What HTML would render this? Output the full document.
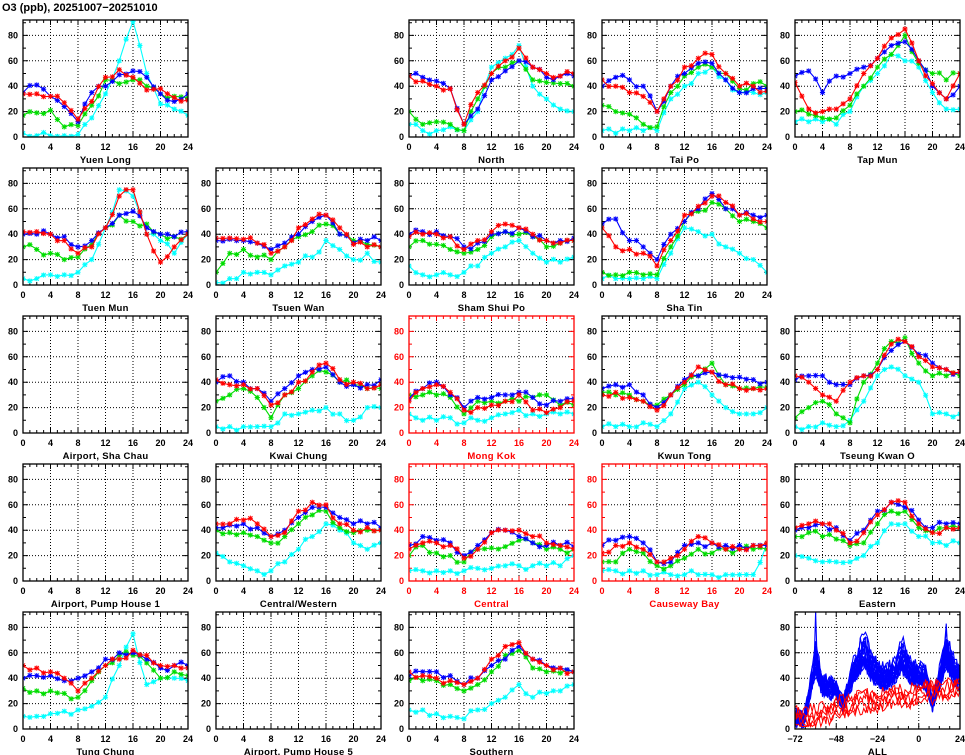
<!DOCTYPE html>
<html><head><meta charset="utf-8"><style>
body{margin:0;background:#fff;}
svg{display:block;font-family:"Liberation Sans",sans-serif;}
</style></head><body>
<svg id="s" width="965" height="755" xmlns="http://www.w3.org/2000/svg">
<text x="2" y="11" font-size="11" font-weight="bold" fill="#000">O3 (ppb), 20251007−20251010</text>
</svg>
<script>
const S=document.getElementById('s');const NS='http://www.w3.org/2000/svg';
function el(t,a,txt){const e=document.createElementNS(NS,t);for(const k in a)e.setAttribute(k,a[k]);if(txt!==undefined)e.textContent=txt;S.appendChild(e);return e;}
const K=1.27,W=165,H=117;
const P=[
["Yuen Long",0,0,0,[[35,41,32,24,12,35,40,49,52,47,34,28,34],[34,34,32,27,14,28,47,53,47,37,38,31,29],[17,19,21,8,9,25,45,42,45,40,34,32,31],[3,1,1,1,2,15,34,60,91,50,26,22,17]]],
["North",2,0,0,[[48,47,44,38,10,22,45,52,60,55,47,48,48],[48,44,40,38,10,35,50,60,70,55,50,48,50],[20,10,12,10,5,30,50,55,60,45,43,42,40],[10,5,5,8,5,20,55,62,72,40,30,22,20]]],
["Tai Po",3,0,0,[[40,47,45,40,20,40,50,58,58,45,35,38,38],[45,40,35,32,20,40,55,62,65,50,40,40,36],[25,20,18,10,8,35,48,55,55,50,38,42,40],[5,3,5,5,5,30,40,50,55,45,35,35,35]]],
["Tap Mun",4,0,0,[[48,52,35,48,50,55,62,72,75,60,40,30,40],[43,22,20,22,30,50,62,78,85,60,42,30,50],[20,18,15,15,25,40,55,65,80,58,50,45,50],[12,12,12,10,20,40,50,65,60,55,35,22,22]]],
["Tuen Mun",0,1,0,[[40,40,40,38,30,35,45,55,58,45,40,38,42],[42,42,40,35,25,30,45,70,75,40,18,30,40],[30,28,25,20,22,32,45,55,50,48,40,38,40],[5,5,8,8,10,20,45,75,70,40,35,25,40]]],
["Tsuen Wan",1,1,0,[[35,36,35,33,28,33,40,50,55,40,33,35,35],[37,37,36,33,25,30,45,52,55,45,32,30,30],[10,25,28,22,20,30,38,42,48,40,35,32,30],[2,5,10,10,8,15,18,22,35,28,20,25,18]]],
["Sham Shui Po",2,1,0,[[40,42,42,38,30,33,40,42,45,38,35,35,37],[38,40,40,38,28,35,42,48,45,40,35,33,35],[30,35,32,28,25,28,38,42,40,38,30,33,35],[15,8,8,8,10,15,25,30,35,25,18,18,22]]],
["Sha Tin",3,1,0,[[48,52,35,30,20,40,50,60,72,60,55,55,55],[45,30,28,25,15,35,55,62,70,65,55,52,50],[10,8,10,8,8,30,50,58,65,60,50,50,45],[5,5,5,5,5,25,45,42,40,30,25,20,10]]],
["Airport, Sha Chau",0,2,0,null],
["Kwai Chung",1,2,0,[[40,45,40,35,25,35,45,50,52,40,38,38,42],[42,38,38,35,22,30,40,48,55,42,40,35,38],[25,30,35,28,12,30,35,45,48,40,38,35,35],[5,5,5,5,5,15,15,18,20,15,10,20,20]]],
["Mong Kok",2,2,1,[[27,35,40,30,20,28,28,30,32,28,22,25,27],[25,35,38,32,18,20,22,25,30,18,16,20,25],[30,30,30,28,15,25,25,25,25,28,30,22,22],[15,10,10,12,8,10,12,15,18,15,15,15,15]]],
["Kwun Tong",3,2,0,[[35,38,38,30,20,30,42,45,48,45,44,42,40],[30,32,28,25,18,30,40,52,48,38,35,35,35],[32,30,30,25,22,30,38,45,55,38,35,35,36],[5,5,5,8,5,15,35,40,30,20,15,15,20]]],
["Tseung Kwan O",4,2,0,[[42,45,45,38,38,45,50,65,72,62,55,50,48],[45,40,30,25,40,45,50,70,72,60,52,50,48],[12,20,25,15,8,40,55,72,75,55,45,45,45],[5,5,8,5,10,25,45,52,45,40,15,15,15]]],
["Airport, Pump House 1",0,3,0,null],
["Central/Western",1,3,0,[[42,44,45,42,35,40,50,58,58,50,45,45,42],[45,45,48,45,35,38,55,62,60,45,40,42,40],[40,38,38,35,30,35,45,52,55,42,38,40,40],[22,15,12,8,8,15,25,35,45,40,30,25,30]]],
["Central",2,3,1,[[28,35,32,30,20,28,38,40,35,30,28,28,27],[25,30,30,28,18,25,38,40,40,35,30,28,25],[20,28,22,20,15,25,26,27,32,30,25,25,25],[8,8,8,8,8,10,10,12,12,12,12,12,20]]],
["Causeway Bay",3,3,1,[[28,32,35,30,15,15,28,30,30,28,28,28,28],[22,28,30,25,15,18,25,35,30,25,25,28,30],[15,15,25,22,12,12,18,25,22,25,25,25,25],[8,8,8,8,5,5,5,5,5,5,5,5,30]]],
["Eastern",4,3,0,[[40,42,45,42,32,40,55,62,58,48,42,45,45],[42,45,45,40,30,38,52,62,62,45,38,42,42],[35,38,35,33,28,30,45,55,55,42,38,42,42],[20,18,15,15,15,20,30,45,45,35,30,28,30]]],
["Tung Chung",0,4,0,[[40,42,42,38,40,45,55,60,60,55,48,50,50],[50,48,45,40,30,40,50,55,62,58,50,50,48],[32,30,30,28,25,38,50,58,58,52,40,45,42],[10,10,12,14,15,18,25,50,75,35,40,40,38]]],
["Airport, Pump House 5",1,4,0,null],
["Southern",2,4,0,[[42,45,45,42,35,40,50,55,65,55,50,48,45],[45,42,40,38,35,40,55,65,68,55,50,48,45],[38,38,38,35,30,35,45,58,62,48,45,44,45],[15,15,12,10,8,15,20,25,35,25,28,30,35]]],
["ALL",4,4,0,"all"]
];
const COL=['#0000ff','#ff0000','#00dd00','#00ffff'];
const ORDER=[3,2,0,1];
let seed=7;function rnd(){seed=(seed*16807)%2147483647;return seed/2147483647;}
function star(x,y,c,g){const r=2.6;g.push(`M${x-r} ${y}h${2*r}M${x} ${y-r}v${2*r}M${x-r*.8} ${y-r*.8}l${1.6*r} ${1.6*r}M${x-r*.8} ${y+r*.8}l${1.6*r} ${-1.6*r}`);}
for(const [name,c,r,red,data] of P){
  const x0=23+193*c,y0=137+148*r,yt=y0-H;
  const fc=red?'#ff0000':'#000';
  const isAll=data==='all';
  const xmin=isAll?-72:0,xmax=24,xs=W/(xmax-xmin);
  const X=v=>x0+(v-xmin)*xs,Y=v=>y0-v*K;
  let gp='';
  const step=isAll?24:4;
  for(let v=xmin+step;v<xmax;v+=step)gp+=`M${X(v)} ${yt}V${y0}`;
  for(let v=20;v<=80;v+=20)gp+=`M${x0} ${Y(v)}H${x0+W}`;
  el('path',{d:gp,stroke:'#000','stroke-width':1,'stroke-dasharray':'1,2',fill:'none'});
  let tp='';const mstep=isAll?6:1;
  for(let v=xmin;v<=xmax;v+=mstep){const L=((v-xmin)%step==0)?5:3;tp+=`M${X(v)} ${y0}v${-L}M${X(v)} ${yt}v${L}`;}
  for(let v=0;v<=90;v+=10){const L=v%20==0?5:3;tp+=`M${x0} ${Y(v)}h${L}M${x0+W} ${Y(v)}h${-L}`;}
  el('path',{d:tp,stroke:fc,'stroke-width':1,fill:'none'});
  for(let v=xmin;v<=xmax;v+=step)el('text',{x:X(v),y:y0+13,'font-size':9,'font-weight':'bold','text-anchor':'middle',fill:fc},v<0?'−'+(-v):String(v));
  for(let v=0;v<=80;v+=20)el('text',{x:x0-5,y:Y(v)+3,'font-size':9,'font-weight':'bold','text-anchor':'end',fill:fc},String(v));
  el('text',{x:x0+W/2,y:y0+26,'font-size':9.5,'font-weight':'bold','text-anchor':'middle',fill:fc,'letter-spacing':'0.3'},name);
  const cp=`c${c}${r}`;
  const cl=el('clipPath',{id:cp});const rc=document.createElementNS(NS,'rect');
  rc.setAttribute('x',x0);rc.setAttribute('y',yt);rc.setAttribute('width',W);rc.setAttribute('height',H);cl.appendChild(rc);
  if(Array.isArray(data)){
    for(const si of ORDER){
      const a=data[si];const pts=[];
      for(let h=0;h<=24;h++){let v;if(h%2==0)v=a[h/2];else v=(a[(h-1)/2]+a[(h+1)/2])/2+(rnd()-0.5)*6;v=Math.max(0.5,v);pts.push([X(h),Y(v)]);}
      el('polyline',{points:pts.map(p=>p.join(',')).join(' '),stroke:COL[si],'stroke-width':1.1,fill:'none','clip-path':`url(#${cp})`});
      const g=[];pts.forEach(p=>star(p[0],p[1],COL[si],g));
      el('path',{d:g.join(''),stroke:COL[si],'stroke-width':1,fill:'none','clip-path':`url(#${cp})`});
    }
  } else if(isAll){
    const base=h=>{const k=[[-72,8],[-67,6],[-64,25],[-60,55],[-56,35],[-48,30],[-44,20],[-38,45],[-32,62],[-26,45],[-20,40],[-14,45],[-10,58],[-4,45],[0,42],[4,40],[8,20],[12,40],[16,62],[20,48],[24,40]];
      for(let i=0;i<k.length-1;i++)if(h<=k[i+1][0]){const t=(h-k[i][0])/(k[i+1][0]-k[i][0]);return k[i][1]+t*(k[i+1][1]-k[i][1]);}return 40;};
    for(let n=0;n<20;n++){const amp=0.7+rnd()*0.6;const pts=[];
      for(let h=-72;h<=24;h++){let v=base(h);v=20+(v-20)*amp+(rnd()-0.5)*14;if(h===-60&&n==0)v=92;if(h===16&&n==1)v=83;v=Math.max(1,v);pts.push(X(h)+','+Y(v));}
      el('polyline',{points:pts.join(' '),stroke:'#0000ff','stroke-width':1.1,fill:'none','clip-path':`url(#${cp})`});}
    for(let n=0;n<5;n++){const pts=[];
      for(let h=-72;h<=24;h++){let v=8+(h+72)/96*18+Math.sin((h+n*5)/3)*6+(rnd()-0.5)*10;if(h>-50)v+=6;pts.push(X(h)+','+Y(Math.max(2,v)));}
      el('polyline',{points:pts.join(' '),stroke:'#ff0000','stroke-width':1,fill:'none','clip-path':`url(#${cp})`});}
  }
  el('rect',{x:x0,y:yt,width:W,height:H,fill:'none',stroke:fc,'stroke-width':1.3});
}
</script>
</body></html>
